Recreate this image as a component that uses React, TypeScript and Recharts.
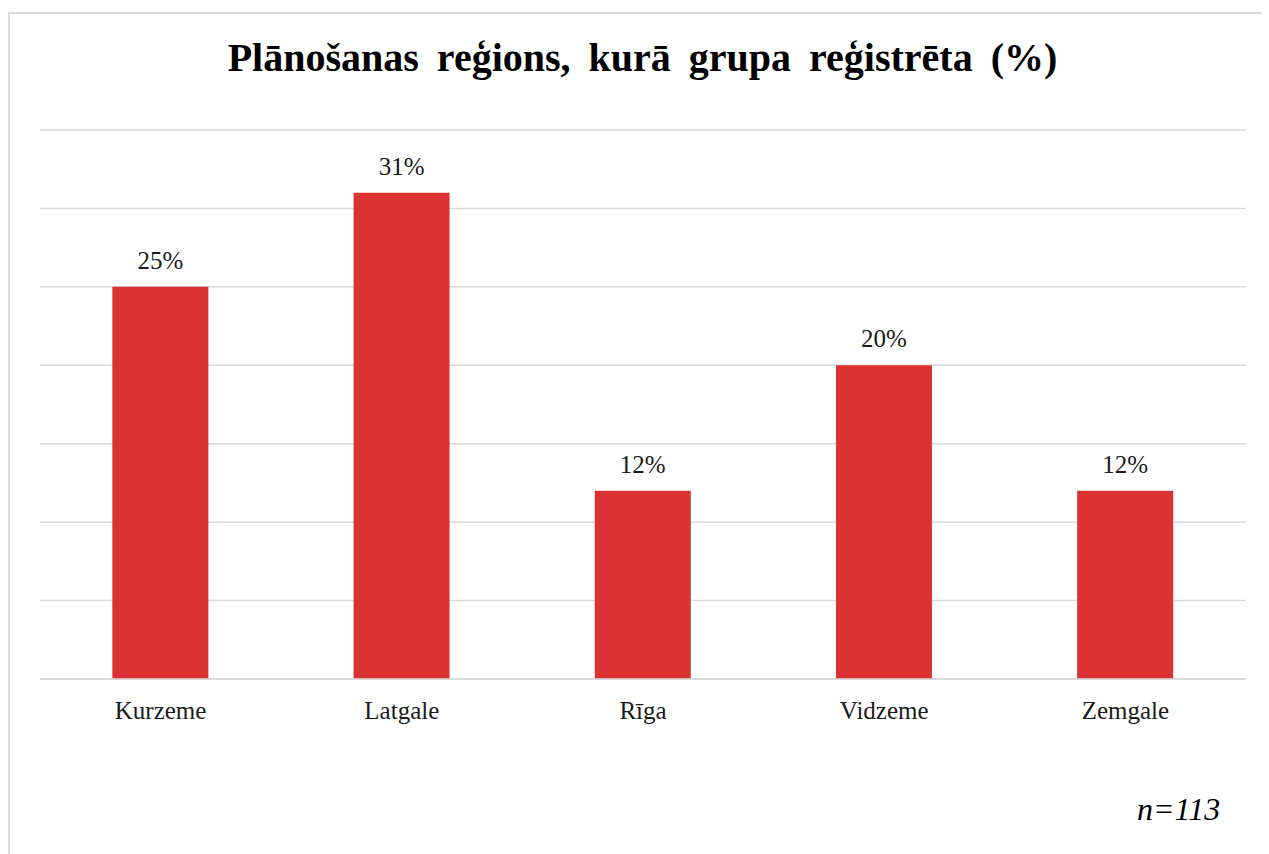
import { BarChart, Bar, XAxis, YAxis, CartesianGrid, LabelList } from 'recharts';

// Planning regions and share of registered groups (%)
const regions = ['Kurzeme', 'Latgale', 'Rīga', 'Vidzeme', 'Zemgale'];
const shares = [25, 31, 12, 20, 12];
const yTicks = [0, 5, 10, 15, 20, 25, 30, 35];

const data = regions.map((region, i) => ({ region, share: shares[i] }));

const serif = '"Liberation Serif", "Times New Roman", serif';

export default function App() {
  return (
    <div
      style={{
        position: 'relative',
        marginTop: 4,
        width: 1261,
        height: 842,
        boxSizing: 'border-box',
        borderTop: '2px solid #d9d9d9',
        borderLeft: '2px solid #d9d9d9',
        background: '#fff',
        fontFamily: serif,
      }}
    >
      <div
        style={{
          position: 'absolute',
          top: 24,
          left: 3,
          width: 1259,
          textAlign: 'center',
          fontSize: 40,
          lineHeight: '40px',
          fontWeight: 'bold',
          wordSpacing: 8,
          color: '#000',
        }}
      >
        Plānošanas reģions, kurā grupa reģistrēta (%)
      </div>
      <div style={{ position: 'absolute', top: 0, left: 0 }}>
        <BarChart
          width={1259}
          height={828}
          data={data}
          margin={{ top: 116, right: 23, left: 30, bottom: 123 }}
          barCategoryGap="30%"
        >
          <CartesianGrid vertical={false} stroke="#d9d9d9" strokeWidth={1.5} />
          <XAxis
            dataKey="region"
            height={40}
            tickLine={false}
            axisLine={{ stroke: '#d9d9d9', strokeWidth: 1.5 }}
            tickMargin={16}
            tick={{ fontSize: 25, fill: '#1a1a1a', fontFamily: serif }}
          />
          <YAxis hide domain={[0, 35]} ticks={yTicks} width={0} />
          <Bar dataKey="share" fill="#db3333" isAnimationActive={false}>
            <LabelList
              dataKey="share"
              position="top"
              offset={18}
              formatter={(v: number) => `${v}%`}
              style={{ fontSize: 25, fill: '#1a1a1a', fontFamily: serif }}
            />
          </Bar>
        </BarChart>
      </div>
      <div
        style={{
          position: 'absolute',
          top: 779,
          left: 1127,
          fontSize: 32,
          lineHeight: '32px',
          fontStyle: 'italic',
          color: '#000',
          whiteSpace: 'nowrap',
        }}
      >
        n=113
      </div>
    </div>
  );
}
